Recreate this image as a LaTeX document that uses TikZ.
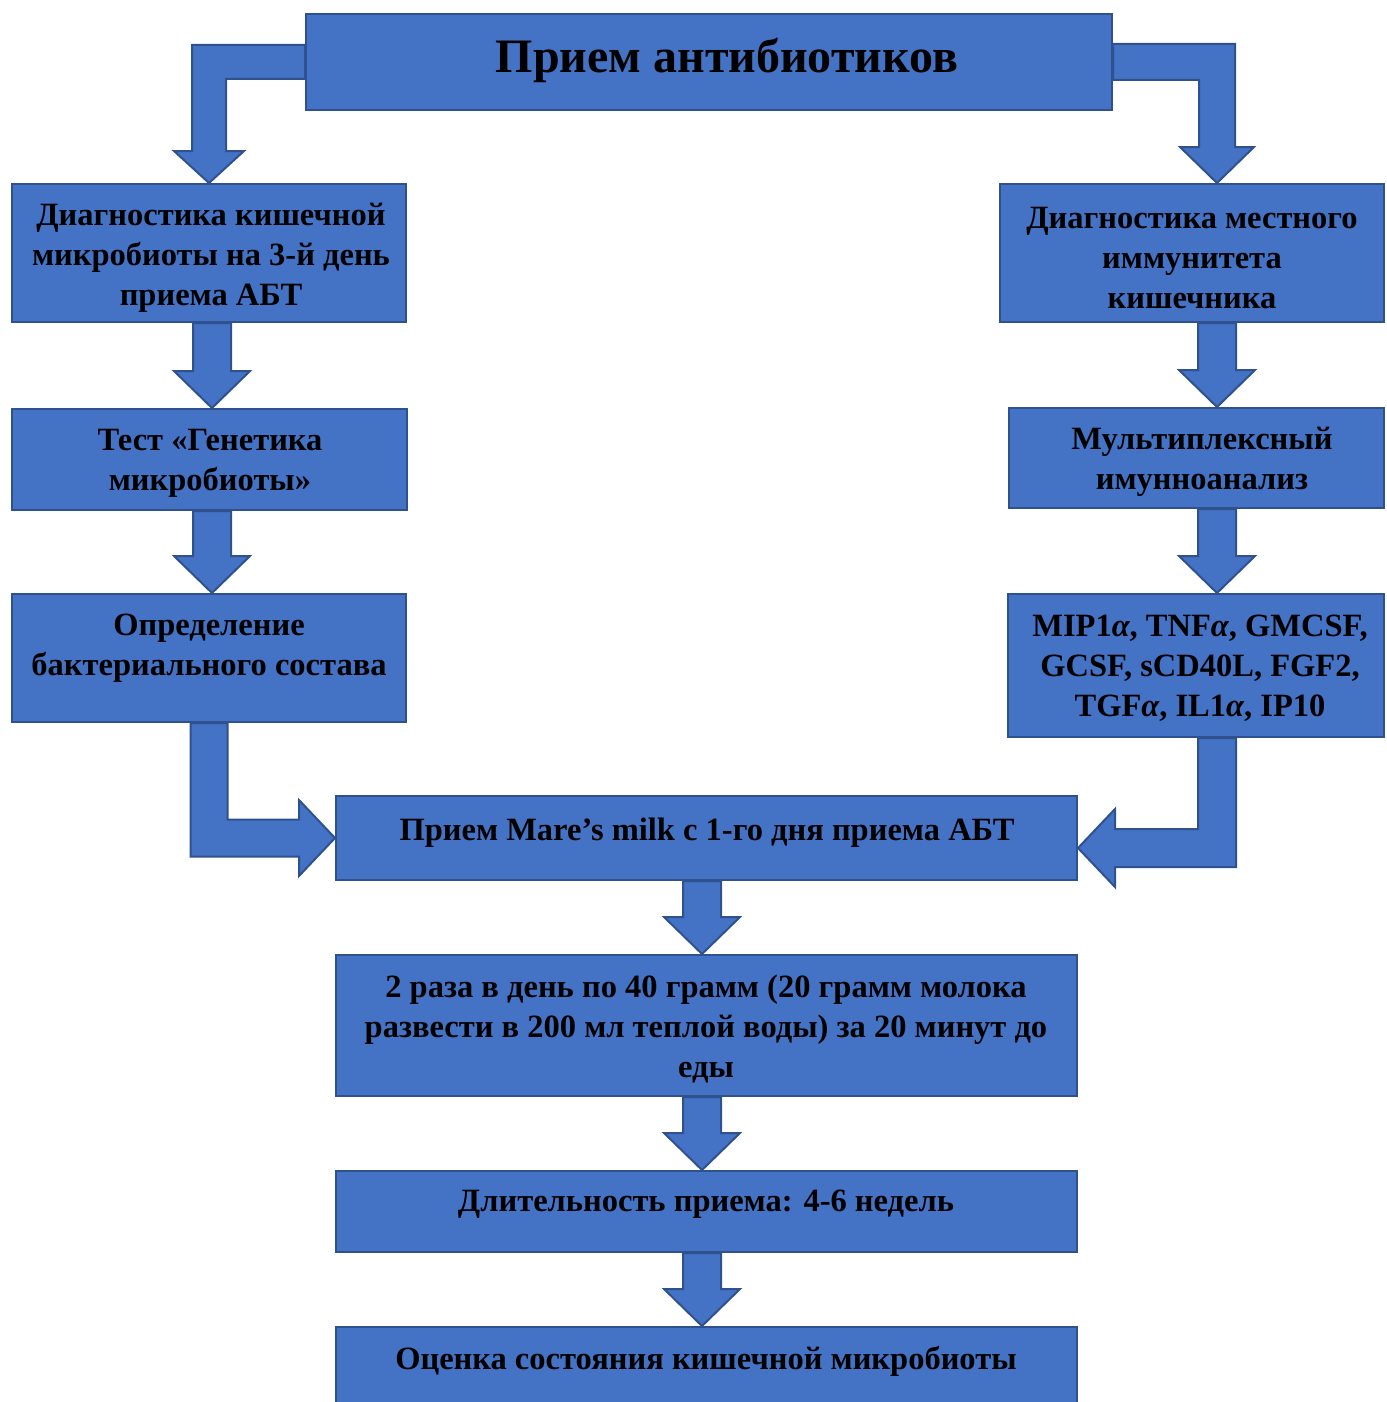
\documentclass[tikz,border=0pt]{standalone}
\usepackage{fontspec}
\setmainfont{Liberation Serif}
\usetikzlibrary{calc,backgrounds}

\definecolor{boxblue}{HTML}{4472C4}
\definecolor{boxedge}{HTML}{2F528F}

\tikzset{
  stage/.style={rectangle, draw=boxedge, fill=boxblue, line width=2pt, inner sep=0pt},
  stagetext/.style={align=center, inner sep=0pt, font=\fontsize{32.5}{40}\selectfont\bfseries},
  bigarrow/.style={draw=boxedge, fill=boxblue, line width=2pt, line join=miter}
}

% straight block arrow, from the bottom of one box to the top of the next
\newcommand\downblock[2]{%
  \draw[bigarrow] ($#1+(-19,0)$) -- ($#2+(-19,-37)$) -- ($#2+(-38,-37)$) -- #2
    -- ($#2+(38,-37)$) -- ($#2+(19,-37)$) -- ($#1+(19,0)$) -- cycle;}

\begin{document}
\begin{tikzpicture}[x=1pt,y=-1pt]
  \useasboundingbox (0,0) rectangle (1386,1402);

  % boxes
  \node[stage, minimum width=806pt, minimum height=96pt] (start) at (709,62) {};
  \node[stage, minimum width=394pt, minimum height=138pt] (diagMicro) at (209,253) {};
  \node[stage, minimum width=395pt, minimum height=101pt] (genTest) at (209.5,459.5) {};
  \node[stage, minimum width=394pt, minimum height=128pt] (bactComp) at (209,658) {};
  \node[stage, minimum width=384pt, minimum height=138pt] (diagImmun) at (1192,253) {};
  \node[stage, minimum width=375pt, minimum height=100pt] (multiplex) at (1196.5,458) {};
  \node[stage, minimum width=376pt, minimum height=143pt] (cytokines) at (1196,665.5) {};
  \node[stage, minimum width=741pt, minimum height=84pt] (milk) at (706.5,838) {};
  \node[stage, minimum width=741pt, minimum height=141pt] (dose) at (706.5,1025.5) {};
  \node[stage, minimum width=741pt, minimum height=81pt] (duration) at (706.5,1211.5) {};
  \node[stage, minimum width=741pt, minimum height=93pt] (result) at (706.5,1373.5) {};

  % texts
  \node[stagetext, font=\fontsize{48}{54}\selectfont\bfseries] (startT) at (727,60) {Прием антибиотиков};
  \node[stagetext] (diagMicroT) at (211,258) {Диагностика кишечной\\микробиоты на 3-й день\\приема АБТ};
  \node[stagetext] (genTestT) at (210,463) {Тест «Генетика\\микробиоты»};
  \node[stagetext] (bactCompT) at (209,648) {Определение\\бактериального состава};
  \node[stagetext] (diagImmunT) at (1192,258) {Диагностика местного\\иммунитета\\кишечника};
  \node[stagetext] (multiplexT) at (1202,462) {Мультиплексный\\имунноанализ};
  \node[stagetext] (cytokinesT) at (1200,668) {MIP1\textit{α}, TNF\textit{α}, GMCSF,\\GCSF, sCD40L, FGF2,\\TGF\textit{α}, IL1\textit{α}, IP10};
  \node[stagetext] (milkT) at (707,833) {Прием Mare’s milk с 1-го дня приема АБТ};
  \node[stagetext] (doseT) at (706,1029) {2 раза в день по 40 грамм (20 грамм молока\\развести в 200 мл теплой воды) за 20 минут до\\еды};
  \node[stagetext] (durationT) at (706,1204) {Длительность приема: 4-6 недель};
  \node[stagetext] (resultT) at (706,1361) {Оценка состояния кишечной микробиоты};

  \coordinate (colL) at (212,0);
  \coordinate (colR) at (1217,0);
  \coordinate (colM) at (702,0);
  \coordinate (cornerR) at (colR |- start.east);
  \coordinate (milkIn) at ($(milk.east)+(0,10)$);

  \begin{scope}[on background layer]
    % bent arrows from the top box
    \draw[bigarrow] ($(start.west)+(0,-17)$) -- ($(diagMicro.north |- start.west)+(-17,-17)$)
      -- ($(diagMicro.north)+(-17,-32)$) -- ($(diagMicro.north)+(-35,-32)$) -- (diagMicro.north)
      -- ($(diagMicro.north)+(35,-32)$) -- ($(diagMicro.north)+(17,-32)$)
      -- ($(diagMicro.north |- start.west)+(17,17)$) -- ($(start.west)+(0,17)$) -- cycle;
    \draw[bigarrow] ($(start.east)+(0,-18)$) -- ($(cornerR)+(18,-18)$)
      -- ($(diagImmun.north -| colR)+(18,-36)$) -- ($(diagImmun.north -| colR)+(37,-36)$) -- (diagImmun.north -| colR)
      -- ($(diagImmun.north -| colR)+(-37,-36)$) -- ($(diagImmun.north -| colR)+(-18,-36)$)
      -- ($(cornerR)+(-18,18)$) -- ($(start.east)+(0,18)$) -- cycle;

    % left and right columns
    \downblock{(diagMicro.south -| colL)}{(genTest.north -| colL)}
    \downblock{(genTest.south -| colL)}{(bactComp.north -| colL)}
    \downblock{(diagImmun.south -| colR)}{(multiplex.north -| colR)}
    \downblock{(multiplex.south -| colR)}{(cytokines.north -| colR)}

    % bent arrows into the milk box
    \draw[bigarrow] ($(bactComp.south)+(-18.5,0)$) -- ($(bactComp.south |- milk.west)+(-18.5,18.5)$)
      -- ($(milk.west)+(-36,18.5)$) -- ($(milk.west)+(-36,38)$) -- (milk.west)
      -- ($(milk.west)+(-36,-38)$) -- ($(milk.west)+(-36,-18.5)$)
      -- ($(bactComp.south |- milk.west)+(18.5,-18.5)$) -- ($(bactComp.south)+(18.5,0)$) -- cycle;
    \draw[bigarrow] ($(cytokines.south -| colR)+(19,0)$) -- ($(colR |- milkIn)+(19,19)$)
      -- ($(milkIn)+(37,19)$) -- ($(milkIn)+(37,39)$) -- (milkIn)
      -- ($(milkIn)+(37,-39)$) -- ($(milkIn)+(37,-19)$)
      -- ($(colR |- milkIn)+(-19,-19)$) -- ($(cytokines.south -| colR)+(-19,0)$) -- cycle;

    % middle column
    \downblock{(milk.south -| colM)}{(dose.north -| colM)}
    \downblock{(dose.south -| colM)}{(duration.north -| colM)}
    \downblock{(duration.south -| colM)}{(result.north -| colM)}
  \end{scope}
\end{tikzpicture}
\end{document}
